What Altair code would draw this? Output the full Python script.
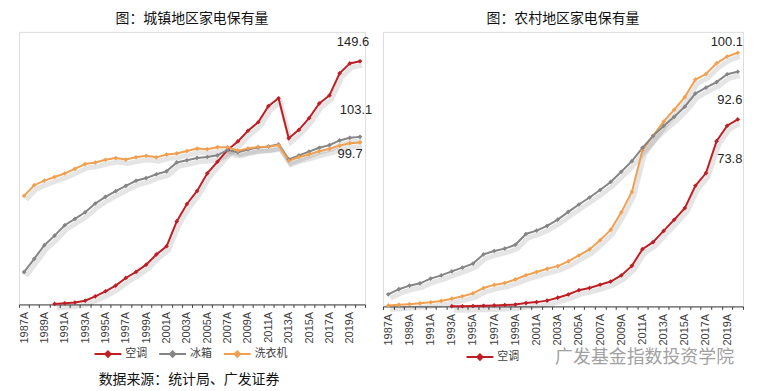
import altair as alt
import pandas as pd

years = [1987, 1988, 1989, 1990, 1991, 1992, 1993, 1994, 1995, 1996,
         1997, 1998, 1999, 2000, 2001, 2002, 2003, 2004, 2005, 2006,
         2007, 2008, 2009, 2010, 2011, 2012, 2013, 2014, 2015, 2016,
         2017, 2018, 2019, 2020]

series_names = ["空调", "冰箱", "洗衣机"]

# 城镇 (urban), per 100 households
urban_ac = [None, None, None, 0.34, 0.71, 1.19, 2.27, 5.00, 8.09, 11.61,
            16.29, 20.01, 24.48, 30.76, 35.79, 51.10, 61.79, 69.81, 80.67, 87.79,
            95.08, 100.28, 106.84, 112.07, 122.00, 126.81, 102.2, 107.4, 114.6, 123.7,
            128.6, 142.2, 148.3, 149.6]
urban_fridge = [19.91, 28.07, 36.47, 42.33, 48.70, 52.60, 56.68, 62.10, 66.22, 69.67,
                72.98, 76.08, 77.74, 80.10, 81.87, 87.38, 88.73, 90.15, 90.72, 91.75,
                95.03, 93.63, 95.35, 96.61, 97.23, 98.48, 89.2, 91.7, 94.0, 96.4,
                98.0, 100.9, 102.5, 103.1]
urban_washer = [66.76, 73.36, 76.21, 78.41, 80.58, 83.41, 86.36, 87.29, 88.97, 90.06,
                89.12, 90.57, 91.44, 90.50, 92.22, 92.90, 94.41, 95.90, 95.51, 96.77,
                96.77, 94.65, 96.01, 96.92, 97.05, 98.02, 88.4, 90.7, 92.3, 94.2,
                95.7, 97.7, 99.2, 99.7]

# 农村 (rural), per 100 households
rural_ac = [None, None, None, None, None, None, 0.05, 0.05, 0.18, 0.26,
            0.39, 0.55, 0.73, 1.32, 1.70, 2.29, 3.45, 4.70, 6.40, 7.28,
            8.54, 9.82, 12.23, 16.00, 22.58, 25.36, 29.8, 34.2, 38.8, 47.6,
            52.6, 65.2, 71.3, 73.8]
rural_fridge = [0.32, 0.63, 0.89, 1.22, 1.64, 2.17, 3.05, 4.00, 5.15, 7.27,
                8.49, 9.25, 10.64, 12.31, 13.59, 14.83, 15.89, 17.75, 20.10, 22.48,
                26.12, 30.19, 37.11, 45.19, 61.54, 67.32, 72.9, 77.6, 82.6, 89.5,
                91.7, 95.9, 98.6, 100.1]
rural_washer = [4.78, 6.80, 8.19, 9.12, 10.99, 12.23, 13.82, 15.30, 16.90, 20.54,
                21.87, 22.81, 24.32, 28.58, 29.92, 31.80, 34.27, 37.32, 40.20, 42.98,
                45.94, 49.11, 53.14, 57.32, 62.57, 67.22, 71.2, 74.8, 78.8, 84.0,
                86.3, 88.5, 91.6, 92.6]

RED = "#BE1E24"
GRAY = "#858585"
ORANGE = "#F0A050"
NUM_FONT = "Liberation Sans"
CJK_FONT = "Noto Sans CJK SC"


def long_df(ac, fridge, washer):
    rows = []
    for name, vals in zip(series_names, [ac, fridge, washer]):
        for yr, v in zip(years, vals):
            if v is not None:
                rows.append({"year": yr, "series": name, "value": v})
    return pd.DataFrame(rows)


def panel(df, colors, title, width, height, ymax, end_labels, legend_x, legend_y,
          legend_values, extras):
    base = alt.Chart(df)
    x = alt.X(
        "year:O",
        scale=alt.Scale(type="band", paddingInner=0, paddingOuter=0),
        axis=alt.Axis(
            title=None,
            labelAngle=270,
            labelAlign="right",
            labelBaseline="middle",
            labelExpr="datum.value % 2 == 1 ? datum.value + 'A' : ''",
            labelOverlap=False,
            labelFont=NUM_FONT,
            labelFontSize=11,
            labelColor="#404040",
            labelPadding=4,
            tickBand="extent",
            tickSize=3,
            tickColor="#404040",
            domainColor="#404040",
            domainWidth=1,
        ),
    )
    y = alt.Y("value:Q", scale=alt.Scale(domain=[0, ymax], nice=False), axis=None)

    shadow = base.mark_line(
        color="#000000", opacity=0.10, strokeWidth=5, xOffset=2, yOffset=4
    ).encode(x=x, y=y, detail="series:N")

    lines = base.mark_line(
        strokeWidth=2,
        point=alt.OverlayMarkDef(shape="diamond", size=22, filled=True),
    ).encode(
        x=x,
        y=y,
        color=alt.Color(
            "series:N",
            sort=series_names,
            scale=alt.Scale(domain=series_names, range=colors),
            legend=alt.Legend(
                title=None,
                orient="none",
                legendX=legend_x,
                legendY=legend_y,
                direction="horizontal",
                columns=3,
                values=legend_values,
                symbolType="M-1,0L1,0M0,-0.2L0.2,0L0,0.2L-0.2,0Z",
                symbolSize=729,
                symbolStrokeWidth=2,
                labelFont=CJK_FONT,
                labelFontSize=11,
                labelColor="#404040",
                labelOffset=3,
                columnPadding=8,
                padding=0,
            ),
        ),
    )

    layers = [shadow, lines]
    for name, dx, dy in end_labels:
        layers.append(
            base.transform_filter(
                (alt.datum.series == name) & (alt.datum.year == 2020)
            ).mark_text(
                dx=dx, dy=dy, font=NUM_FONT, fontSize=13, color="#262626"
            ).encode(x=x, y=y, text=alt.Text("value:Q", format=".1f"))
        )
    layers.extend(extras)

    return alt.layer(*layers).properties(
        width=width,
        height=height,
        title=alt.Title(
            title, font=CJK_FONT, fontSize=14, fontWeight="normal",
            color="#111111", offset=6,
        ),
    )


urban_df = long_df(urban_ac, urban_fridge, urban_washer)
rural_df = long_df(rural_ac, rural_fridge, rural_washer)

source_note = alt.Chart(pd.DataFrame({"t": ["数据来源：统计局、广发证券"]})).mark_text(
    font=CJK_FONT, fontSize=14, color="#111111"
).encode(text="t:N", x=alt.value(171), y=alt.value(350))

watermark = alt.Chart(pd.DataFrame({"t": ["广发基金指数投资学院"]})).mark_text(
    font=CJK_FONT, fontSize=18, color="#8a8a8a", opacity=0.8
).encode(text="t:N", x=alt.value(263), y=alt.value(328))

left = panel(
    urban_df, [RED, GRAY, ORANGE], "图：城镇地区家电保有量",
    348, 274, 274 / 1.634,
    [("空调", -7, -19), ("冰箱", -4, -27), ("洗衣机", -10, 12)],
    75, 309, series_names, [source_note],
)
right = panel(
    rural_df, [RED, ORANGE, GRAY], "图：农村地区家电保有量",
    362, 276, 276 / 2.548,
    [("冰箱", -11, -11), ("洗衣机", -8, 28), ("空调", -8, 40)],
    83, 312, ["空调"], [watermark],
)

chart = alt.hconcat(left, right, spacing=18, bounds="flush").resolve_scale(
    color="independent", x="independent", y="independent"
).resolve_legend(color="independent").properties(
    padding={"left": 4, "top": 2, "right": 0, "bottom": 0}
).configure_view(stroke=None).configure(background="white")

chart.save("out.html", embed_options={"renderer": "svg", "actions": False})
